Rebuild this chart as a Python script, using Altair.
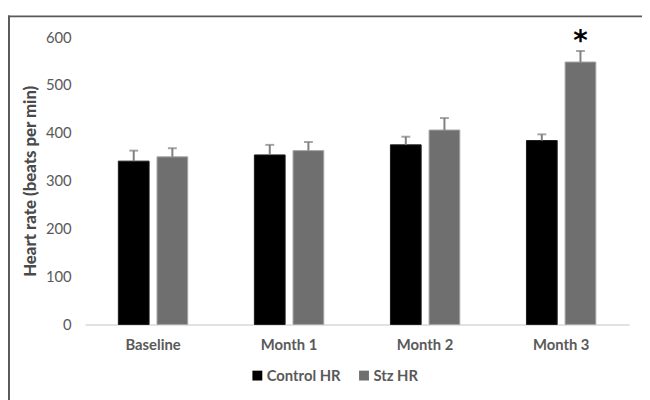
import altair as alt
import pandas as pd

periods = ["Baseline", "Month 1", "Month 2", "Month 3"]
groups = ["Control HR", "Stz HR"]
control_hr = [341, 354, 375, 384]
stz_hr = [350, 363, 406, 548]
control_err = [22, 21, 17, 13]
stz_err = [18, 18, 25, 23]
marks = ["", "", "", "*"]

rows = []
for i, p in enumerate(periods):
    rows.append({"period": p, "group": groups[0], "hr": control_hr[i],
                 "top": control_hr[i] + control_err[i], "mark": ""})
    rows.append({"period": p, "group": groups[1], "hr": stz_hr[i],
                 "top": stz_hr[i] + stz_err[i], "mark": marks[i]})
df = pd.DataFrame(rows)

FONT = "Lato"
GREY_TXT = "#595959"

x_enc = alt.X("period:N", sort=periods, title=None,
              scale=alt.Scale(paddingInner=0.49, paddingOuter=0.245),
              axis=alt.Axis(labelAngle=0, labelFontWeight="bold", labelFontSize=15,
                            labelColor=GREY_TXT, labelFont=FONT, ticks=False,
                            domainColor="#d9d9d9", domainWidth=1.5, labelPadding=13))
xo_enc = alt.XOffset("group:N", sort=groups,
                     scale=alt.Scale(paddingInner=0.205, paddingOuter=0))
y_scale = alt.Scale(domain=[0, 600], nice=False)

base = alt.Chart(df)

bars = base.mark_bar(strokeWidth=1).encode(
    x=x_enc,
    xOffset=xo_enc,
    y=alt.Y("hr:Q", scale=y_scale, title="Heart rate (beats per min)",
            axis=alt.Axis(values=[0, 100, 200, 300, 400, 500, 600], grid=False,
                          domain=False, ticks=False, labelFontSize=15,
                          labelColor=GREY_TXT, labelFont=FONT, labelPadding=14,
                          titleFont=FONT, titleFontSize=17, titleFontWeight=900,
                          titleColor="#4a4a4a", titlePadding=6)),
    color=alt.Color("group:N", sort=groups,
                    scale=alt.Scale(domain=groups, range=["#000000", "#6f6f6f"]),
                    legend=alt.Legend(title=None, orient="none", direction="horizontal",
                                      legendX=167, legendY=335, symbolType="square",
                                      symbolSize=100, symbolStrokeWidth=0,
                                      labelFont=FONT, labelFontSize=15,
                                      labelFontWeight="bold", labelColor=GREY_TXT,
                                      labelOffset=2, columnPadding=16)),
    stroke=alt.Stroke("group:N", sort=groups,
                      scale=alt.Scale(domain=groups, range=["#1a1a1a", "#a6a6a6"]),
                      legend=None),
)

rules = base.mark_rule(color="#7f7f7f", strokeWidth=2).encode(
    x=x_enc, xOffset=xo_enc,
    y=alt.Y("hr:Q", scale=y_scale), y2="top:Q")

caps = base.mark_tick(color="#7f7f7f", thickness=2, size=9, orient="horizontal").encode(
    x=x_enc, xOffset=xo_enc,
    y=alt.Y("top:Q", scale=y_scale))

star = base.mark_text(fontSize=28, fontWeight="bold", color="#000000", dy=5,
                      baseline="bottom", font="DejaVu Sans").encode(
    x=x_enc, xOffset=xo_enc,
    y=alt.Y("top:Q", scale=y_scale), text="mark:N")

frame_df = pd.DataFrame({"f": [0]})
frame_left = alt.Chart(frame_df).mark_rule(color="#5a5a5a", strokeWidth=2).encode(
    x=alt.value(-77), y=alt.value(-22), y2=alt.value(450))
frame_top = alt.Chart(frame_df).mark_rule(color="#5a5a5a", strokeWidth=2).encode(
    x=alt.value(-78), x2=alt.value(700), y=alt.value(-21))

chart = alt.layer(frame_left, frame_top, bars, rules, caps, star).properties(
    width=551, height=291,
    autosize=alt.AutoSizeParams(type="none"),
    padding={"left": 78, "top": 27, "right": 13, "bottom": 74},
).configure(background="white").configure_view(strokeWidth=0, stroke="transparent")

chart.save("out.html", embed_options={"renderer": "svg", "actions": False})
